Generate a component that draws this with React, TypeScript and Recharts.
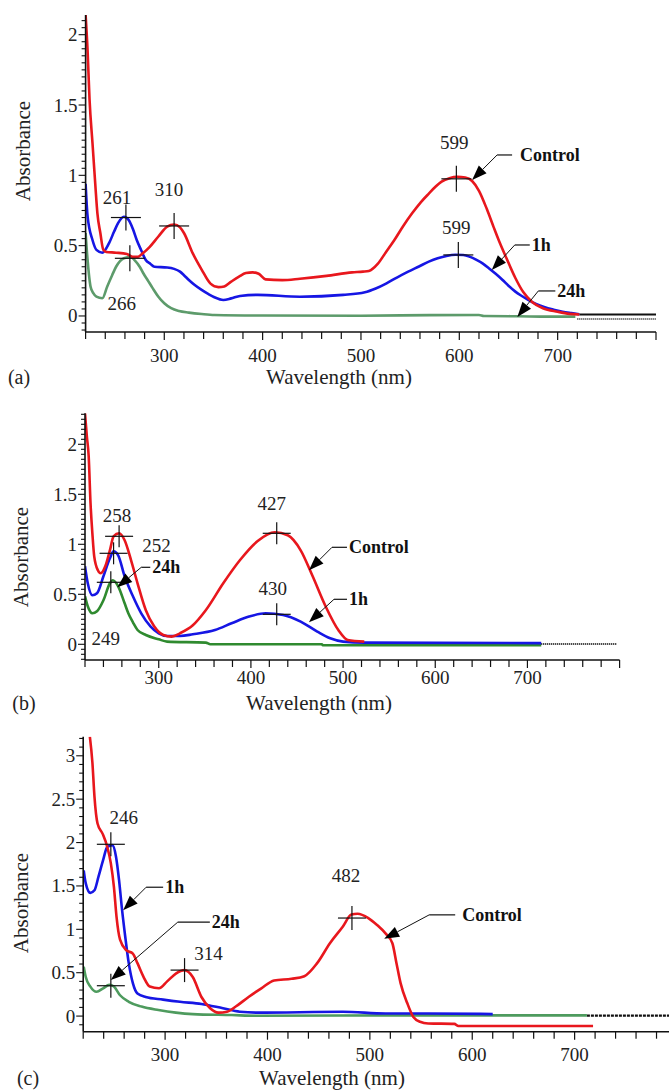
import React from 'react'
import { LineChart, Line, XAxis, YAxis, ReferenceDot } from 'recharts'

type Pt = [number, number]

// wavelength (nm), absorbance pairs

// (a)
const controlA: Pt[] = [
  [220, 2.14], [222, 1.89], [224, 1.54], [227, 1.23], [230, 0.92], [232, 0.73], [235, 0.59],
  [238, 0.47], [241, 0.455], [251, 0.45], [262, 0.44], [268, 0.42], [273, 0.42], [278, 0.445],
  [285, 0.49], [294, 0.565], [303, 0.635], [310, 0.65], [316, 0.63], [320, 0.59], [329, 0.445],
  [338, 0.33], [347, 0.23], [355, 0.205], [361, 0.21], [368, 0.244], [376, 0.28], [383, 0.305],
  [390, 0.31], [396, 0.3], [403, 0.26], [420, 0.255], [438, 0.265], [465, 0.285], [491, 0.31],
  [502, 0.315], [508, 0.32], [517, 0.37], [525, 0.45], [534, 0.54], [543, 0.64], [552, 0.73],
  [561, 0.81], [569, 0.87], [576, 0.92], [582, 0.955], [590, 0.98], [598, 0.99], [606, 0.985],
  [613, 0.96], [620, 0.89], [628, 0.76], [635, 0.63], [640, 0.54], [648, 0.41], [657, 0.27],
  [665, 0.17], [674, 0.1], [685, 0.055], [700, 0.03], [712, 0.015], [722, 0.01],
]
const oneHourA: Pt[] = [
  [220, 0.94], [222, 0.71], [227, 0.54], [231, 0.47], [237, 0.45], [244, 0.52], [249, 0.6],
  [253, 0.66], [259, 0.705], [264, 0.68], [268, 0.62], [272, 0.54], [277, 0.46], [281, 0.4],
  [286, 0.37], [290, 0.35], [303, 0.345], [310, 0.335], [316, 0.315], [320, 0.29], [325, 0.256],
  [331, 0.22], [338, 0.185], [345, 0.155], [351, 0.133], [360, 0.114], [368, 0.125], [377, 0.142],
  [395, 0.15], [438, 0.137], [482, 0.15], [504, 0.168], [515, 0.195], [526, 0.232], [537, 0.275],
  [548, 0.315], [559, 0.352], [569, 0.386], [578, 0.41], [587, 0.427], [596, 0.435], [604, 0.434],
  [611, 0.42], [617, 0.4], [624, 0.372], [630, 0.34], [637, 0.3], [644, 0.256], [650, 0.215],
  [657, 0.173], [664, 0.14], [670, 0.114], [678, 0.085], [687, 0.062], [696, 0.045], [705, 0.03],
  [714, 0.02], [722, 0.012],
]
const dayA: Pt[] = [
  [220, 0.59], [222, 0.4], [225, 0.21], [228, 0.16], [231, 0.137], [237, 0.126], [242, 0.21],
  [247, 0.29], [251, 0.35], [255, 0.39], [259, 0.41], [266, 0.42], [270, 0.395], [275, 0.35],
  [279, 0.3], [283, 0.256], [288, 0.2], [294, 0.137], [300, 0.09], [307, 0.055], [315, 0.035],
  [325, 0.024], [338, 0.014], [351, 0.007], [400, 0.003], [500, 0.002], [570, 0.006], [620, 0.007],
  [625, 0.0], [660, -0.002], [690, -0.005], [718, -0.005],
]
const tailA: Pt[] = [[722, 0.01], [800, 0.01]]
const tailDotA: Pt[] = [[720, -0.022], [800, -0.022]]

// (b)
const controlB: Pt[] = [
  [220, 2.31], [222, 2.08], [224, 1.88], [226, 1.41], [228, 1.11], [230, 0.88], [234, 0.74],
  [237, 0.71], [242, 0.78], [247, 0.94], [251, 1.08], [257, 1.11], [263, 1.04], [270, 0.84],
  [277, 0.61], [286, 0.34], [295, 0.18], [305, 0.093], [314, 0.077], [323, 0.11], [337, 0.19],
  [351, 0.34], [370, 0.61], [388, 0.84], [407, 1.03], [426, 1.12], [440, 1.09], [454, 0.94],
  [467, 0.68], [481, 0.38], [495, 0.14], [505, 0.043], [523, 0.027],
]
const oneHourB: Pt[] = [
  [220, 0.78], [223, 0.61], [228, 0.49], [233, 0.51], [240, 0.68], [247, 0.86], [251, 0.93],
  [256, 0.89], [263, 0.68], [272, 0.48], [281, 0.31], [291, 0.18], [300, 0.11], [309, 0.083],
  [323, 0.083], [337, 0.1], [361, 0.143], [379, 0.21], [398, 0.277], [416, 0.31], [435, 0.293],
  [454, 0.227], [472, 0.127], [486, 0.06], [500, 0.027], [523, 0.017], [715, 0.012],
]
const dayB: Pt[] = [
  [220, 0.48], [223, 0.38], [228, 0.31], [233, 0.33], [240, 0.44], [247, 0.61], [250, 0.64],
  [256, 0.58], [263, 0.41], [267, 0.31], [272, 0.22], [277, 0.143], [286, 0.093], [300, 0.05],
  [309, 0.027], [351, 0.017], [356, 0.0], [477, 0.0], [478, -0.01], [715, -0.01],
]
const tailDotB: Pt[] = [[715, 0.004], [797, 0.004]]

// (c)
const controlC: Pt[] = [
  [226.5, 3.22], [229, 2.92], [231, 2.53], [234, 2.22], [239, 2.1], [243.5, 1.95], [247, 1.76],
  [250, 1.49], [252.5, 1.15], [256, 0.88], [262, 0.76], [268.5, 0.72], [273, 0.61], [279, 0.45],
  [285, 0.34], [294, 0.32], [302, 0.4], [310.5, 0.49], [319, 0.53], [327, 0.45], [335.5, 0.22],
  [344, 0.09], [352, 0.04], [360.5, 0.05], [369, 0.11], [381.5, 0.22], [394, 0.32], [406.5, 0.41],
  [423.5, 0.43], [436, 0.46], [448.5, 0.61], [461, 0.84], [473.5, 1.03], [482, 1.17], [488, 1.18],
  [498.5, 1.13], [507, 1.05], [515.5, 0.95], [522, 0.84], [526, 0.61], [530, 0.38], [536.5, 0.15],
  [542.5, -0.01], [549, -0.065], [557, -0.085], [582.5, -0.09], [586.5, -0.115], [718, -0.115],
]
const oneHourC: Pt[] = [
  [220.5, 1.68], [222.5, 1.53], [227, 1.42], [231, 1.45], [235, 1.61], [239.5, 1.8], [243.5, 1.95],
  [248.5, 1.97], [252, 1.84], [255, 1.57], [258, 1.22], [261, 0.92], [264.5, 0.61], [268.5, 0.38],
  [273, 0.26], [281, 0.22], [298, 0.19], [314.5, 0.165], [335.5, 0.14], [356.5, 0.09], [373, 0.05],
  [390, 0.04], [473.5, 0.05], [515.5, 0.03], [557, 0.03], [620, 0.023],
]
const dayC: Pt[] = [
  [220.5, 0.57], [222.5, 0.45], [227, 0.34], [233, 0.28], [239.5, 0.32], [245.5, 0.36], [250, 0.34],
  [256, 0.24], [264.5, 0.165], [277, 0.11], [293.5, 0.07], [310.5, 0.04], [327, 0.023], [365, 0.012],
  [390, 0.004], [557, 0.008], [712, 0.008],
]
const tailC: Pt[] = [[712, 0.006], [800, 0.006]]

// peak markers (+) and their wavelength labels
const peaksA = [
  { nm: 261, abs: 0.7, text: '261' },
  { nm: 310, abs: 0.64, text: '310' },
  { nm: 265, abs: 0.41, text: '266' },
  { nm: 597, abs: 0.975, text: '599' },
  { nm: 599, abs: 0.434, text: '599' },
]
const peaksB = [
  { nm: 257, abs: 1.08, text: '258' },
  { nm: 251, abs: 0.91, text: '252' },
  { nm: 248, abs: 0.62, text: '249' },
  { nm: 428, abs: 1.11, text: '427' },
  { nm: 428, abs: 0.3, text: '430' },
]
const peaksC = [
  { nm: 247, abs: 1.98, text: '246' },
  { nm: 319, abs: 0.53, text: '314' },
  { nm: 247, abs: 0.35, text: '' },
  { nm: 482.5, abs: 1.13, text: '482' },
]

// arrow callouts naming each curve
const calloutsA = [
  { nm: 613, abs: 0.967, text: 'Control' },
  { nm: 633, abs: 0.327, text: '1h' },
  { nm: 659, abs: -0.007, text: '24h' },
]
const calloutsB = [
  { nm: 463, abs: 0.74, text: 'Control' },
  { nm: 463, abs: 0.22, text: '1h' },
  { nm: 255, abs: 0.57, text: '24h' },
]
const calloutsC = [
  { nm: 259, abs: 1.22, text: '1h' },
  { nm: 247, abs: 0.415, text: '24h' },
  { nm: 514, abs: 0.89, text: 'Control' },
]

const xLabels = [300, 400, 500, 600, 700]
const yLabelsAB = [0, 0.5, 1, 1.5, 2]
const yLabelsC = [0, 0.5, 1, 1.5, 2, 2.5, 3]

// ---- layout ----
const FONT = "'Times New Roman', 'Liberation Serif', Tinos, Times, serif"
const RED = '#e8171d'
const BLUE = '#1616e4'

const steps = (from: number, to: number, step: number) => {
  const out: number[] = []
  for (let v = from; v <= to + 1e-9; v += step) out.push(Math.round(v * 1000) / 1000)
  return out
}
const xTicks = steps(220, 800, 20)

// label offsets [dx, dy] from the + marker
const peakOffsetA = [[-9, -20], [-5, -36], [-8, 45], [-2, -36], [-2, -27]]
const peakOffsetB = [[-2, -21], [43, -8], [-5, 56], [-5, -30], [-4, -26]]
const peakOffsetC = [[13, -27], [24, -17], [0, 0], [-6, -43]]
// callout [dx, dy, horizontal leader, text dx]
const calloutOffsetA = [[25, -25, 15, 23], [23, -25, 15, 17], [21, -26, 17, 19]]
const calloutOffsetB = [[23, -23, 15, 17], [25, -23, 13, 15], [24, -20, 9, 11]]
const calloutOffsetC = [[23, -23, 17, 19], [67, -58, 32, 34], [45, -24, 26, 33]]

const toRows = (pts: Pt[]) => pts.map(([nm, a]) => ({ nm, a }))

function Cross({ cx, cy, hw, hh, text, dx, dy }: any) {
  return (
    <g>
      <line x1={cx - hw} x2={cx + hw} y1={cy} y2={cy} stroke="#111" strokeWidth={1.2} />
      <line x1={cx} x2={cx} y1={cy - hh} y2={cy + hh} stroke="#111" strokeWidth={1.2} />
      {text ? (
        <text x={cx + dx} y={cy + dy} textAnchor="middle" dominantBaseline="central"
          style={{ fontFamily: FONT }} fontSize={19} fill="#222">{text}</text>
      ) : null}
    </g>
  )
}

function Callout({ cx, cy, off, text }: any) {
  const [dx, dy, seg, tdx] = off
  const ex = cx + dx
  const ey = cy + dy
  const ang = Math.atan2(cy - ey, cx - ex)
  const c = Math.cos(ang)
  const s = Math.sin(ang)
  const L = 15
  const W = 5.5
  const bx = cx - L * c
  const by = cy - L * s
  const pts = `${cx},${cy} ${bx - W * s},${by + W * c} ${bx + W * s},${by - W * c}`
  return (
    <g>
      <line x1={ex} y1={ey} x2={bx} y2={by} stroke="#111" strokeWidth={1} />
      <line x1={ex} y1={ey} x2={ex + seg} y2={ey} stroke="#111" strokeWidth={1.2} />
      <polygon points={pts} fill="#000" />
      <text x={ex + tdx} y={ey} dominantBaseline="central" style={{ fontFamily: FONT }}
        fontSize={18} fontWeight="bold" fill="#111">{text}</text>
    </g>
  )
}

function Caption({ x, y, text, rotate, size = 21 }: any) {
  return (
    <div style={{
      position: 'absolute', left: x, top: y, whiteSpace: 'nowrap',
      transform: `translate(-50%, -50%)${rotate ? ' rotate(-90deg)' : ''}`,
      fontFamily: FONT, fontSize: size, color: '#222', lineHeight: 1,
    }}>{text}</div>
  )
}

function Panel({ top, width, height, margin, yAxisWidth, xAxisHeight, yDomain, yTicks, yLabels,
  xLabelDy, series, peaks, peakOffset, cross, callouts, calloutOffset }: any) {
  const xTick = ({ x, y, payload }: any) => {
    const v = payload.value
    const major = v % 100 === 0
    return (
      <g>
        <line x1={x} x2={x} y1={y} y2={y + (major ? 8 : 7)} stroke="#111" strokeWidth={1.2} />
        {xLabels.includes(v) ? (
          <text x={x} y={y + xLabelDy} textAnchor="middle" dominantBaseline="central"
            style={{ fontFamily: FONT }} fontSize={19} fill="#222">{v}</text>
        ) : null}
      </g>
    )
  }
  const yTick = ({ x, y, payload }: any) => {
    const v = payload.value
    const major = yLabels.includes(v)
    return (
      <g>
        <line x1={x - (major ? 7 : 4)} x2={x} y1={y} y2={y} stroke="#111" strokeWidth={1.1} />
        {major ? (
          <text x={x - 8} y={y} textAnchor="end" dominantBaseline="central"
            style={{ fontFamily: FONT }} fontSize={19} fill="#222">{v}</text>
        ) : null}
      </g>
    )
  }
  return (
    <div style={{ position: 'absolute', left: 0, top }}>
      <LineChart width={width} height={height} margin={margin}>
        <XAxis type="number" dataKey="nm" domain={[220, 800]} allowDataOverflow ticks={xTicks}
          interval={0} tickSize={0} tickMargin={0} tickLine={false} tick={xTick}
          height={xAxisHeight} axisLine={{ stroke: '#111', strokeWidth: 1.6 }} />
        <YAxis type="number" domain={yDomain} allowDataOverflow ticks={yTicks} interval={0}
          tickSize={0} tickMargin={0} tickLine={false} tick={yTick} width={yAxisWidth}
          axisLine={{ stroke: '#111', strokeWidth: 1.6 }} />
        {series.map((s: any, i: number) => (
          <Line key={i} data={toRows(s.data)} dataKey="a" type="monotone" dot={false}
            stroke={s.color} strokeWidth={s.width ?? 2.6} strokeDasharray={s.dash}
            isAnimationActive={false} />
        ))}
        {peaks.map((p: any, i: number) => (
          <ReferenceDot key={'p' + i} x={p.nm} y={p.abs} r={1}
            shape={(d: any) => (
              <Cross cx={d.cx} cy={d.cy} hw={cross[0]} hh={cross[1]} text={p.text}
                dx={peakOffset[i][0]} dy={peakOffset[i][1]} />
            )} />
        ))}
        {callouts.map((c: any, i: number) => (
          <ReferenceDot key={'c' + i} x={c.nm} y={c.abs} r={1}
            shape={(d: any) => <Callout cx={d.cx} cy={d.cy} off={calloutOffset[i]} text={c.text} />} />
        ))}
      </LineChart>
    </div>
  )
}

export default function App() {
  return (
    <div style={{
      position: 'absolute', left: 0, top: 0, width: 669, height: 1090,
      overflow: 'hidden', background: '#fff', fontFamily: FONT,
    }}>
      <Panel
        top={0} width={669} height={370}
        margin={{ top: 15, right: 13, bottom: 0, left: 0 }}
        yAxisWidth={85.6} xAxisHeight={38}
        yDomain={[-0.114, 2.14]} yTicks={steps(-0.1, 2.1, 0.05)} yLabels={yLabelsAB}
        xLabelDy={23}
        series={[
          { data: tailDotA, color: '#111', width: 1.6, dash: '1 1' },
          { data: tailA, color: '#111', width: 2 },
          { data: dayA, color: '#5d9b6b' },
          { data: oneHourA, color: BLUE },
          { data: controlA, color: RED },
        ]}
        peaks={peaksA} peakOffset={peakOffsetA} cross={[15, 13]}
        callouts={calloutsA} calloutOffset={calloutOffsetA}
      />
      <Caption x={23} y={151} text="Absorbance" rotate />
      <Caption x={339} y={377} text="Wavelength (nm)" />
      <Caption x={19} y={377} text="(a)" size={20} />

      <Panel
        top={370} width={669} height={320}
        margin={{ top: 43.3, right: 49.4, bottom: 0, left: 0 }}
        yAxisWidth={85} xAxisHeight={30}
        yDomain={[-0.157, 2.31]} yTicks={steps(-0.15, 2.3, 0.05)} yLabels={yLabelsAB}
        xLabelDy={17}
        series={[
          { data: tailDotB, color: '#111', width: 2, dash: '1 1' },
          { data: dayB, color: '#2f8a2f' },
          { data: oneHourB, color: BLUE },
          { data: controlB, color: RED },
        ]}
        peaks={peaksB} peakOffset={peakOffsetB} cross={[14, 11]}
        callouts={calloutsB} calloutOffset={calloutOffsetB}
      />
      <Caption x={21} y={557} text="Absorbance" rotate />
      <Caption x={319} y={703} text="Wavelength (nm)" />
      <Caption x={24} y={703} text="(b)" size={20} />

      <Panel
        top={690} width={690} height={400}
        margin={{ top: 46.7, right: 13, bottom: 0, left: 0 }}
        yAxisWidth={83.2} xAxisHeight={58.3}
        yDomain={[-0.18, 3.22]} yTicks={steps(-0.1, 3.2, 0.1)} yLabels={yLabelsC}
        xLabelDy={23}
        series={[
          { data: tailC, color: '#111', width: 2.2, dash: '3 1' },
          { data: dayC, color: '#4e9b5e' },
          { data: oneHourC, color: BLUE },
          { data: controlC, color: RED },
        ]}
        peaks={peaksC} peakOffset={peakOffsetC} cross={[14, 12]}
        callouts={calloutsC} calloutOffset={calloutOffsetC}
      />
      <Caption x={21} y={903} text="Absorbance" rotate />
      <Caption x={332} y={1078} text="Wavelength (nm)" />
      <Caption x={28} y={1078} text="(c)" size={20} />
    </div>
  )
}
